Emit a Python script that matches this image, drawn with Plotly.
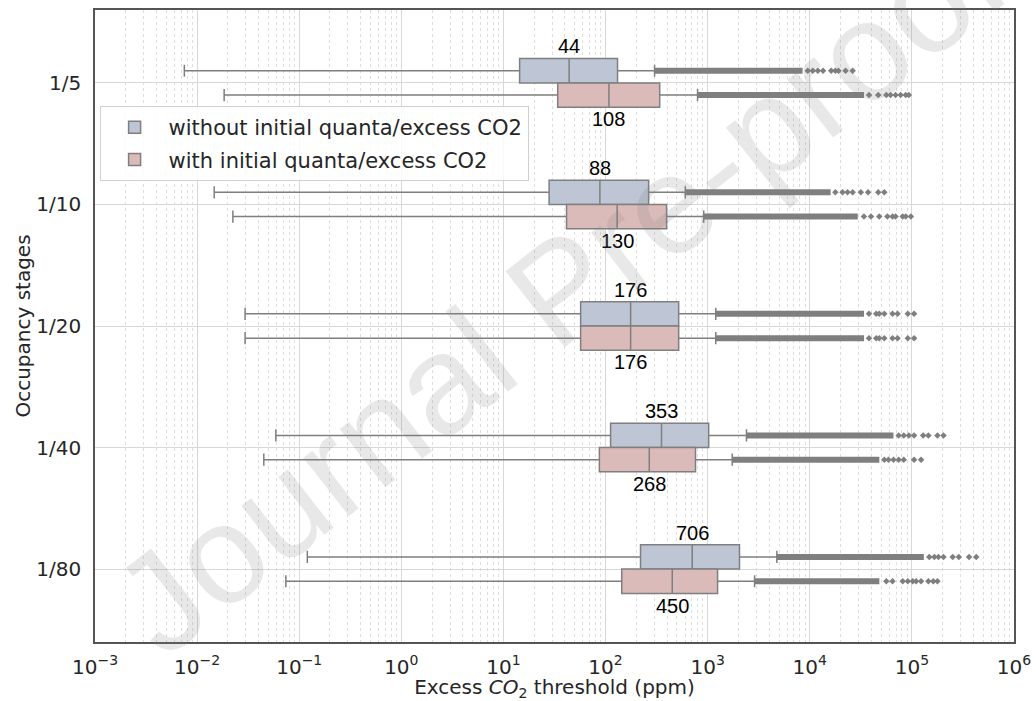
import plotly.graph_objects as go
import math

categories = ["1/5", "1/10", "1/20", "1/40", "1/80"]
series_names = ["without initial quanta/excess CO2", "with initial quanta/excess CO2"]

# series 1: without initial quanta/excess CO2
wo_lower = [0.0075, 0.0147, 0.0295, 0.059, 0.12]
wo_q1 = [14.4, 28, 57, 112, 220]
wo_median = [44, 88, 176, 353, 706]
wo_q3 = [131, 264, 520, 1023, 2050]
wo_upper = [302, 604, 1200, 2400, 4760]
wo_dense_end = [8500, 16000, 34000, 66000, 131000]
wo_sparse = [
    [9550, 10700, 12000, 13500, 16200, 17800, 19100, 22400, 26300],
    [17800, 20900, 23400, 26300, 31600, 37200, 46800, 53700],
    [38000, 44700, 47900, 53700, 64600, 72400, 91200, 105000],
    [74100, 83200, 93300, 105000, 129000, 145000, 178000, 204000],
    [148000, 166000, 182000, 204000, 251000, 288000, 363000, 427000],
]

# series 2: with initial quanta/excess CO2
wi_lower = [0.0184, 0.0224, 0.0295, 0.045, 0.074]
wi_q1 = [34, 41.5, 57, 87, 144]
wi_median = [108, 130, 176, 268, 450]
wi_q3 = [339, 396, 520, 760, 1250]
wi_upper = [796, 915, 1200, 1740, 2880]
wi_dense_end = [34000, 29500, 34000, 48000, 48000]
wi_sparse = [
    [38000, 46800, 56200, 61700, 69200, 77600, 87100, 93300],
    [33900, 39800, 47900, 57500, 64600, 69200, 81300, 87100, 97700],
    [38000, 44700, 47900, 53700, 64600, 72400, 91200, 105000],
    [53700, 58900, 66100, 74100, 83200, 105000, 123000],
    [56200, 64600, 81300, 91200, 102000, 110000, 123000, 145000, 162000, 178000],
]

x_tick_exps = [-3, -2, -1, 0, 1, 2, 3, 4, 5, 6]

colors = ["#bec6d5", "#dbbbb9"]
gray = "#7f7f7f"
offsets = [-0.1, 0.1]

series = [
    (wo_lower, wo_q1, wo_median, wo_q3, wo_upper, wo_dense_end, wo_sparse),
    (wi_lower, wi_q1, wi_median, wi_q3, wi_upper, wi_dense_end, wi_sparse),
]

fig = go.Figure()
pos_base = list(range(len(categories)))

for s, (lo, q1, med, q3, up, dend, sparse) in enumerate(series):
    pos = [p + offsets[s] for p in pos_base]
    fig.add_trace(go.Box(
        y=pos, q1=q1, median=med, q3=q3, lowerfence=lo, upperfence=up,
        orientation="h", width=0.2, whiskerwidth=0.5,
        fillcolor=colors[s], line=dict(color=gray, width=1.5),
        name=series_names[s], legendgroup="g%d" % s,
        boxpoints=False, hoverinfo="skip",
    ))

for s, (lo, q1, med, q3, up, dend, sparse) in enumerate(series):
    pos = [p + offsets[s] for p in pos_base]
    bx, by = [], []
    for i in range(len(categories)):
        bx += [up[i], dend[i], None]
        by += [pos[i], pos[i], None]
    fig.add_trace(go.Scatter(x=bx, y=by, mode="lines",
                             line=dict(color=gray, width=6),
                             showlegend=False, hoverinfo="skip"))
    sx, sy = [], []
    for i in range(len(categories)):
        sx += sparse[i]
        sy += [pos[i]] * len(sparse[i])
    fig.add_trace(go.Scatter(x=sx, y=sy, mode="markers",
                             marker=dict(symbol="diamond", size=5, color=gray),
                             showlegend=False, hoverinfo="skip"))

# median labels
for s, (lo, q1, med, q3, up, dend, sparse) in enumerate(series):
    for i in range(len(categories)):
        fig.add_annotation(
            x=math.log10(med[i]), y=pos_base[i] + (-0.3 if s == 0 else 0.3),
            text=str(med[i]), showarrow=False,
            font=dict(family="Liberation Sans, Arial", size=20, color="black"),
        )

# watermark
fig.add_annotation(
    xref="paper", yref="paper", x=0.506, y=0.557,
    text="Journal Pre-proof", showarrow=False, textangle=-38,
    font=dict(family="Liberation Sans, Arial", size=140, color="rgba(128,128,128,0.18)"),
)

minor_vals = [m * 10 ** e for e in x_tick_exps[:-1] for m in range(2, 10)]

fig.update_layout(
    width=1036, height=701,
    margin=dict(l=95, r=22, t=10, b=59),
    paper_bgcolor="white", plot_bgcolor="white",
    font=dict(family="DejaVu Sans", size=20, color="#262626"),
    boxmode="overlay",
    legend=dict(
        x=0.005, y=0.848, xanchor="left", yanchor="top",
        bgcolor="rgba(255,255,255,0.85)", bordercolor="#d0d0d0", borderwidth=1,
        font=dict(family="DejaVu Sans", size=21, color="#262626"),
        tracegroupgap=2, itemwidth=58,
    ),
    xaxis=dict(
        type="log", range=[-3, 6], automargin=False,
        tickvals=[10 ** e for e in x_tick_exps],
        ticktext=["10<sup>%s</sup>" % (str(e).replace("-", "\u2212")) for e in x_tick_exps],
        showgrid=True, gridcolor="#d8d8d8", gridwidth=1,
        minor=dict(tickvals=minor_vals, showgrid=True, gridcolor="#dedede",
                   griddash="dot", gridwidth=1),
        showline=True, linecolor="#555555", linewidth=1.5, mirror=True,
        ticks="", ticklabelstandoff=6, zeroline=False,
        title=dict(text="Excess <i>CO</i><sub>2</sub> threshold (ppm)", standoff=0,
                   font=dict(size=20)),
    ),
    yaxis=dict(
        range=[4.6, -0.6], automargin=False,
        tickvals=pos_base, ticktext=categories,
        showgrid=True, gridcolor="#d8d8d8", gridwidth=1,
        showline=True, linecolor="#555555", linewidth=1.5, mirror=True,
        ticks="", ticklabelstandoff=8, zeroline=False,
        title=dict(text="Occupancy stages", standoff=0, font=dict(size=20)),
    ),
)

fig.write_html("out.html", config={"displayModeBar": False},
               post_script="document.body.style.margin='0px';")
